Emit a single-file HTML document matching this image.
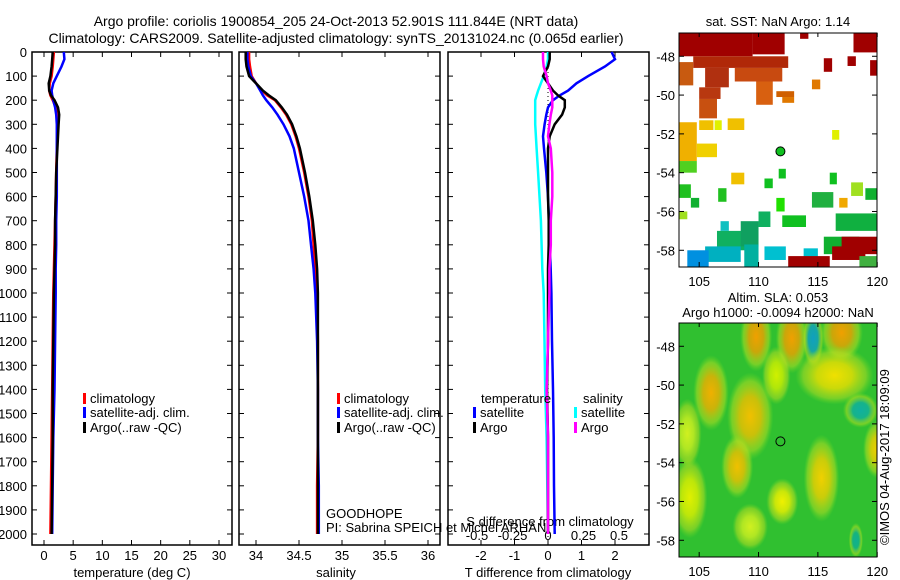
<!DOCTYPE html>
<html><head><meta charset="utf-8"><style>
body{margin:0;background:#fff}
svg{display:block;font-family:"Liberation Sans",sans-serif;font-size:13px}
</style></head><body>
<svg id="fig" width="900" height="580" viewBox="0 0 900 580">
<text x="336" y="26" text-anchor="middle" style="font-size:14px">Argo profile: coriolis 1900854_205 24-Oct-2013 52.901S 111.844E (NRT data)</text>
<text x="336" y="43" text-anchor="middle" style="font-size:14px">Climatology: CARS2009. Satellite-adjusted climatology: synTS_20131024.nc (0.065d earlier)</text>
<g id="g"></g>
<text x="326" y="518">GOODHOPE</text>
<text x="326" y="532">PI: Sabrina SPEICH et Michel ARHAN</text>
<text transform="translate(889,545) rotate(-90)">©IMOS 04-Aug-2017 18:09:09</text>
</svg>
<script>
// ---- data ----
const depthTicks=[0,100,200,300,400,500,600,700,800,900,1000,1100,1200,1300,1400,1500,1600,1700,1800,1900,2000];
const tTicks=[0,5,10,15,20,25,30];
const sTicks=[34,34.5,35,35.5,36];
const tdTicks=[-2,-1,0,1,2];
const sdTicks=[-0.5,-0.25,0,0.25,0.5];
const sdTickLabels=["-0.5","-0.25","0","0.25","0.5"];
const depths=[0,30,60,100,130,160,180,200,230,260,300,350,400,500,600,700,800,900,1000,1200,1400,1600,1800,2000];
const tClim=[1.7,1.6,1.5,1.3,1.0,0.9,1.1,1.5,2.0,2.2,2.3,2.3,2.2,2.1,2.0,1.9,1.8,1.7,1.6,1.5,1.4,1.3,1.2,1.1];
const tSat=[3.4,3.5,3.0,2.2,1.6,1.3,1.4,1.6,1.9,2.1,2.2,2.2,2.2,2.2,2.2,2.1,2.1,2.0,2.0,1.9,1.8,1.6,1.5,1.4];
const tArgo=[1.5,1.4,1.3,1.1,0.8,0.9,1.2,1.8,2.4,2.6,2.5,2.4,2.3,2.1,2.0,1.9,1.9,1.8,1.7,1.6,1.5,1.5,1.4,1.3];
const sClim=[33.92,33.92,33.93,33.95,34.0,34.07,34.13,34.22,34.29,34.35,34.41,34.46,34.5,34.56,34.61,34.65,34.67,34.69,34.71,34.72,34.72,34.72,34.71,34.71];
const sSat=[33.9,33.9,33.91,33.94,34.0,34.05,34.08,34.12,34.19,34.25,34.32,34.39,34.44,34.5,34.56,34.61,34.64,34.67,34.69,34.71,34.72,34.72,34.73,34.73];
const sArgo=[33.88,33.88,33.89,33.92,34.0,34.08,34.15,34.23,34.3,34.36,34.42,34.47,34.51,34.57,34.62,34.66,34.69,34.71,34.72,34.72,34.72,34.72,34.72,34.72];
const tdSat=[1.9,2.0,1.7,1.2,0.85,0.6,0.35,0.15,0.0,-0.05,-0.1,-0.15,-0.12,-0.05,0.0,0.03,0.05,0.08,0.1,0.12,0.15,0.17,0.18,0.2];
const tdArgo=[0.05,0.05,0.0,-0.15,0.0,0.15,0.3,0.5,0.5,0.42,0.2,0.05,0.0,0.0,0.0,0.02,0.02,0.0,0.0,0.0,-0.03,0.0,0.0,0.0];
const sdSat=[0.0,0.0,-0.01,-0.03,-0.05,-0.07,-0.08,-0.09,-0.09,-0.09,-0.09,-0.085,-0.08,-0.07,-0.06,-0.05,-0.045,-0.04,-0.03,-0.025,-0.02,-0.01,-0.005,0.0];
const sdArgo=[-0.035,-0.035,-0.03,-0.01,0.0,0.02,0.03,0.03,0.03,0.02,0.01,0.0,0.02,0.03,0.03,0.02,0.02,0.01,0.01,0.0,-0.01,0.0,0.0,0.0];
const lonTicks=[105,110,115,120];
const latTicks=[-48,-50,-52,-54,-56,-58];
// SST patches: [lon0,lat0,lon1,lat1,color]
const sstPatches=[
[103.3,-46.8,109.5,-48.0,"#a00000"],[109.5,-46.8,112.2,-47.9,"#a00000"],[110.8,-46.8,111.5,-47.4,"#a00000"],[113.5,-46.8,114.2,-47.1,"#a00000"],[118,-46.8,120.2,-47.8,"#a00000"],[117.5,-48,118.2,-48.5,"#a00000"],[119.4,-48.2,120.2,-49,"#a00000"],[115.5,-48.1,116.2,-48.8,"#a00000"],
[104.5,-48.0,112.5,-48.6,"#b02808"],[103.3,-48.3,104.5,-49.5,"#c85a10"],[105.5,-48.6,107.5,-49.6,"#b03010"],[108,-48.6,112,-49.3,"#c84a10"],[105,-49.6,106.8,-50.2,"#b83810"],[109.8,-49.3,111.2,-50.5,"#d86010"],
[105,-50.2,106.5,-51.2,"#c85010"],[111.5,-49.8,113,-50.1,"#d06000"],[112,-50.1,113,-50.4,"#e07800"],
[114.5,-49.2,115.2,-49.7,"#e07800"],[103.3,-51.4,104.8,-53.4,"#f0b000"],[105,-51.3,106.2,-51.8,"#f0c000"],[107.4,-51.2,108.8,-51.8,"#f0c000"],[104.8,-52.5,106.5,-53.2,"#f0d000"],[107.7,-54.0,108.8,-54.6,"#f0c000"],[116.2,-51.8,116.8,-52.3,"#e0f000"],[106.3,-51.3,106.9,-51.8,"#e0f000"],
[103.3,-53.4,104.8,-54.0,"#50d020"],[103.3,-54.6,104.3,-55.3,"#20c020"],[104.3,-55.3,105,-55.8,"#10b030"],[106.6,-54.8,107.3,-55.5,"#20c020"],[111.7,-53.8,112.3,-54.3,"#10c020"],[110.5,-54.3,111.2,-54.8,"#10c020"],[114.5,-55,116.3,-55.8,"#20b040"],[116,-54.0,116.6,-54.6,"#10c020"],[117.8,-54.5,118.8,-55.2,"#a0e020"],[119,-54.8,120,-55.4,"#10b030"],[103.3,-56,104,-56.4,"#a0e020"],[116.8,-55.3,117.5,-55.8,"#f0a800"],[111.5,-55.3,112.2,-56,"#20e000"],
[110,-56.0,111,-56.8,"#10b060"],[112,-56.2,114,-56.8,"#10c020"],[116.5,-56.1,120,-57.0,"#10b040"],[106.5,-57.0,109.5,-58.0,"#10b060"],[108.5,-56.5,110,-57.8,"#10a060"],[106.8,-56.5,107.5,-57,"#10c0c0"],[105.5,-57.8,108.5,-58.6,"#00b0c0"],[104,-58.0,105.8,-58.9,"#0090e0"],[108.8,-57.7,110,-58.9,"#00b0a0"],[110.5,-57.8,112.3,-58.5,"#00c0d0"],[113.8,-57.9,115,-58.6,"#00c0d0"],[115.5,-57.3,118.5,-58.2,"#10b030"],
[117,-57.3,120.2,-58.2,"#a00000"],[112.5,-58.3,116,-58.9,"#a00000"],[116.2,-57.8,119,-58.5,"#a00000"],[118.5,-58.3,120.2,-58.9,"#40b040"]];
// SLA blobs: [lon,lat,rx(deg),ry(deg),color]
const slaBlobs=[[109.8,-47.5,0.9,1.2,"#f0a000"],[112.8,-47.6,0.9,1.2,"#f0a000"],[117,-47.3,1.2,1.0,"#f0a000"],[114.6,-47.6,0.6,1.0,"#10a0c0"],[106,-50.4,1.0,1.3,"#f0b000"],[109.3,-51.6,1.3,1.5,"#f0c000"],[116.4,-49.5,2.2,1.0,"#f0e000"],[108.2,-54.2,0.9,1.1,"#f0c000"],[115.3,-54.8,1.0,1.5,"#f0d000"],[112,-56,0.9,0.8,"#f0f000"],[104.2,-55.8,1.0,1.4,"#e0f000"],[120,-53.3,0.8,1.0,"#f0d000"],[118.6,-51.3,1.0,0.6,"#10b0a0"],[109.3,-57.3,1.0,0.8,"#d0f020"],[104,-52.5,0.8,1.2,"#d0f020"],[118.2,-58,0.4,0.6,"#10b090"],[111.5,-49.5,0.8,1.0,"#d0f000"]];
const argoLon=111.844, argoLat=-52.901;

const NS="http://www.w3.org/2000/svg";
const G=document.getElementById('g');
function el(tag,attrs,parent){const e=document.createElementNS(NS,tag);for(const k in attrs)e.setAttribute(k,attrs[k]);(parent||G).appendChild(e);return e;}
const TOP=52,BOT=545;
const yD=d=>TOP+d*0.241;
function frame(x0,x1,name){
  const r=el('rect',{x:x0,y:TOP,width:x1-x0,height:BOT-TOP,fill:'none',stroke:'#000','stroke-width':1.5});
  
  
  depthTicks.forEach(d=>{
    el('line',{x1:x0,x2:x0+5,y1:yD(d),y2:yD(d),stroke:'#000'});
    el('line',{x1:x1,x2:x1-5,y1:yD(d),y2:yD(d),stroke:'#000'});
  });
}
function xTicks(ticks,fx,labels,ly,name,top){
  ticks.forEach((v,i)=>{
    const x=fx(v);
    el('line',{x1:x,x2:x,y1:BOT,y2:BOT-5,stroke:'#000'});
    if(top!==false)el('line',{x1:x,x2:x,y1:TOP,y2:TOP+5,stroke:'#000'});
    const t=el('text',{x:x,y:ly,'text-anchor':'middle'});
    t.textContent=labels?labels[i]:String(v);
    
    
  });
}
function line(xs,f,color,w,name){
  const pts=depths.map((d,i)=>f(xs[i]).toFixed(1)+','+yD(d).toFixed(1)).join(' ');
  const p=el('polyline',{points:pts,fill:'none',stroke:color,'stroke-width':w});
  
  
}
function label(x,y,txt,name,anchor){
  const t=el('text',{x:x,y:y,'text-anchor':anchor||'start'});t.textContent=txt;
  
  
}
function legendEntry(x,y,color,txt){
  el('rect',{x:x,y:y-10,width:3,height:11,fill:color});
  const t=el('text',{x:x+7,y:y});t.textContent=txt;
  
  
}
depthTicks.forEach(d=>{
  const t=el('text',{x:27,y:yD(d)+5,'text-anchor':'end'});t.textContent=String(d);
  
  
});
const xT=v=>44+v*5.833;
frame(32,232,'temperature-panel');
xTicks(tTicks,xT,null,560,'temperature-tick-label');
label(132,577,'temperature (deg C)','temperature-axis-title','middle');
line(tClim,xT,'#f00',2.5,'temperature-climatology-line');
line(tSat,xT,'#00f',2.5,'temperature-satellite-line');
line(tArgo,xT,'#000',2.5,'temperature-argo-line');
legendEntry(83,403,'#f00','climatology');
legendEntry(83,417,'#00f','satellite-adj. clim.');
legendEntry(83,432,'#000','Argo(..raw -QC)');
const xS=v=>256+(v-34)*86;
frame(239,440,'salinity-panel');
xTicks(sTicks,xS,null,560,'salinity-tick-label');
label(336,577,'salinity','salinity-axis-title','middle');
line(sClim,xS,'#f00',2.5,'salinity-climatology-line');
line(sSat,xS,'#00f',2.5,'salinity-satellite-line');
line(sArgo,xS,'#000',2.5,'salinity-argo-line');
legendEntry(337,403,'#f00','climatology');
legendEntry(337,417,'#00f','satellite-adj. clim.');
legendEntry(337,432,'#000','Argo(..raw -QC)');
const xTD=v=>548+v*33.5;
const xSD=v=>548+v*142;
frame(448,649,'difference-panel');
xTicks(tdTicks,xTD,null,560,'t-difference-tick-label');
sdTicks.forEach((v,i)=>{const t=el('text',{x:xSD(v),y:540,'text-anchor':'middle'});t.textContent=sdTickLabels[i];
  
  });
label(548,577,'T difference from climatology','t-difference-axis-title','middle');
label(550,526,'S difference from climatology','s-difference-axis-title','middle');
el('line',{x1:548,x2:548,y1:TOP,y2:BOT,stroke:'#000','stroke-dasharray':'1,3'});
line(sdSat,xSD,'#0ff',2.5,'salinity-satellite-diff-line');
line(tdSat,xTD,'#00f',2.5,'temperature-satellite-diff-line');
line(tdArgo,xTD,'#000',2.5,'temperature-argo-diff-line');
line(sdArgo,xSD,'#f0f',2.5,'salinity-argo-diff-line');
label(481,403,'temperature','legend-temperature-heading');
label(583,403,'salinity','legend-salinity-heading');
legendEntry(473,417,'#00f','satellite');
legendEntry(473,432,'#000','Argo');
legendEntry(574,417,'#0ff','satellite');
legendEntry(574,432,'#f0f','Argo');
const mx=lon=>679+(lon-103.3)*11.87;
function mapPanel(y0,ttl,name){
  const my=lat=>y0+(-46.8-lat)*19.4;
  const clip=el('clipPath',{id:'c'+y0});el('rect',{x:679,y:y0,width:198,height:234},clip);
  const g=el('g',{'clip-path':'url(#c'+y0+')'});
  
  
  return {my,g,y0};
}
function mapAxes(m){
  el('rect',{x:679,y:m.y0,width:198,height:234,fill:'none',stroke:'#000'});
  lonTicks.forEach(v=>{el('line',{x1:mx(v),x2:mx(v),y1:m.y0+234,y2:m.y0+229,stroke:'#000'});
    el('line',{x1:mx(v),x2:mx(v),y1:m.y0,y2:m.y0+4,stroke:'#000'});
    const t=el('text',{x:mx(v),y:m.y0+253,'text-anchor':'middle'});t.textContent=String(v);
    
    });
  latTicks.forEach(v=>{el('line',{x1:679,x2:684,y1:m.my(v),y2:m.my(v),stroke:'#000'});
    el('line',{x1:877,x2:872,y1:m.my(v),y2:m.my(v),stroke:'#000'});
    const t=el('text',{x:675,y:m.my(v)+5,'text-anchor':'end'});t.textContent=String(v);
    
    });
}
const m1=mapPanel(33,'','sst-map');
sstPatches.forEach(p=>{
  const r=el('rect',{x:mx(p[0]),y:m1.my(p[1]),width:mx(p[2])-mx(p[0]),height:m1.my(p[3])-m1.my(p[1]),fill:p[4]},m1.g);
  
  
});
mapAxes(m1);
el('circle',{cx:mx(argoLon),cy:m1.my(argoLat),r:4.5,fill:'#10c020',stroke:'#000'});
label(778,26,'sat. SST: NaN Argo: 1.14','sst-map-title','middle');
const m2=mapPanel(323,'','sla-map');
const defs=el('defs',{});
el('rect',{x:679,y:323,width:198,height:234,fill:'#30c030'},m2.g);
slaBlobs.forEach((b,i)=>{
  const gr=el('radialGradient',{id:'rg'+i},defs);
  el('stop',{offset:'0','stop-color':b[4]},gr);
  el('stop',{offset:'0.45','stop-color':b[4],'stop-opacity':'0.8'},gr);
  el('stop',{offset:'0.8','stop-color':'#c0e020','stop-opacity':'0.5'},gr);
  el('stop',{offset:'1','stop-color':'#80e020','stop-opacity':'0'},gr);
  const e=el('ellipse',{cx:mx(b[0]),cy:m2.my(b[1]),rx:b[2]*11.87*1.5,ry:b[3]*19.4*1.5,fill:'url(#rg'+i+')'},m2.g);
  
  
});
mapAxes(m2);
el('circle',{cx:mx(argoLon),cy:m2.my(argoLat),r:4.5,fill:'none',stroke:'#000'});
label(778,302,'Altim. SLA: 0.053','sla-map-title','middle');
label(778,317,'Argo h1000: -0.0094 h2000: NaN','sla-map-subtitle','middle');
</script>
</body></html>
